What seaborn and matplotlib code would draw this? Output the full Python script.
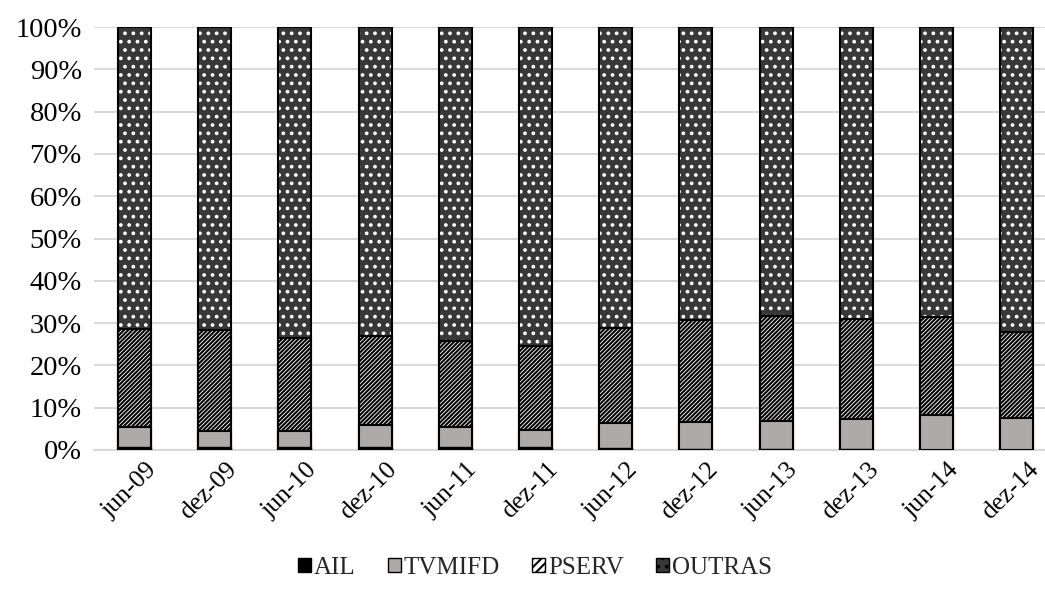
import numpy as np
import pandas as pd
import seaborn as sns
from matplotlib import pyplot as plt
from matplotlib.patches import Patch
from matplotlib.ticker import PercentFormatter, FixedLocator
from matplotlib.transforms import ScaledTranslation

periods = ['jun-09', 'dez-09', 'jun-10', 'dez-10', 'jun-11', 'dez-11',
           'jun-12', 'dez-12', 'jun-13', 'dez-13', 'jun-14', 'dez-14']
ail = [0.7, 0.6, 0.6, 0.6, 0.6, 0.8, 0.4, 0.3, 0.2, 0.2, 0.1, 0.1]
tvmifd = [4.8, 4.0, 4.0, 5.3, 4.8, 3.9, 6.1, 6.4, 6.7, 7.2, 8.1, 7.5]
pserv = [23.0, 23.8, 21.9, 21.1, 20.4, 20.0, 22.3, 24.0, 24.8, 23.6, 23.3, 20.4]
series = ['AIL', 'TVMIFD', 'PSERV', 'OUTRAS']

df = pd.DataFrame({'periodo': periods, 'AIL': ail, 'TVMIFD': tvmifd, 'PSERV': pserv})
df['OUTRAS'] = 100 - df[['AIL', 'TVMIFD', 'PSERV']].sum(axis=1)
cum = df[series].cumsum(axis=1)
cum['periodo'] = df['periodo']

sns.set_style('white')
plt.rcParams['font.family'] = ['Liberation Serif', 'DejaVu Serif']
plt.rcParams['hatch.linewidth'] = 1.5

grid_c = '#d9d9d9'
dark = '#383838'
gray = '#aeaaaa'
width = 0.41

fig = plt.figure(figsize=(10.45, 5.89), dpi=100)
ax = fig.add_axes([0.0903, 0.236, 0.921, 0.718])

# stacked by overlaying cumulative totals, top layer first
sns.barplot(data=cum, x='periodo', y='OUTRAS', color=dark, saturation=1, width=width,
            edgecolor='white', linewidth=0, hatch='..', ax=ax, zorder=2)
sns.barplot(data=cum, x='periodo', y='OUTRAS', fill=False, width=width,
            edgecolor='black', linewidth=1.5, ax=ax, zorder=3)
sns.barplot(data=cum, x='periodo', y='PSERV', color='white', saturation=1, width=width,
            edgecolor='black', linewidth=1.5, hatch='////////', ax=ax, zorder=4)
sns.barplot(data=cum, x='periodo', y='TVMIFD', color=gray, saturation=1, width=width,
            edgecolor='black', linewidth=1.5, ax=ax, zorder=5)
sns.barplot(data=cum, x='periodo', y='AIL', color='black', saturation=1, width=width,
            edgecolor='black', linewidth=1.0, ax=ax, zorder=6)

ax.set_ylim(0, 100)
ax.set_xlim(-0.5, len(periods) - 0.5)
ax.yaxis.set_major_locator(FixedLocator(np.arange(0, 101, 10)))
ax.yaxis.set_major_formatter(PercentFormatter(decimals=0))
ax.grid(axis='y', color=grid_c, linewidth=1.5, zorder=0)
ax.set_axisbelow(True)
ax.set_xlabel('')
ax.set_ylabel('')

for s in ['top', 'right', 'left']:
    ax.spines[s].set_visible(False)
ax.spines['bottom'].set_color(grid_c)
ax.spines['bottom'].set_linewidth(1.5)

ax.xaxis.set_minor_locator(FixedLocator(np.arange(-0.5, len(periods), 1)))
ax.tick_params(axis='x', which='minor', length=8, width=1.5, color=grid_c, direction='out')
ax.tick_params(axis='x', which='major', length=0, pad=6, labelsize=18.5, colors='black')
ax.tick_params(axis='y', length=0, pad=9, labelsize=20.5, colors='black')
shift = ScaledTranslation(11 / 100, 0, fig.dpi_scale_trans)
for lbl in ax.get_xticklabels():
    lbl.set_rotation(45)
    lbl.set_ha('right')
    lbl.set_rotation_mode('anchor')
    lbl.set_transform(lbl.get_transform() + shift)

handles = [
    Patch(facecolor='black', edgecolor='black'),
    Patch(facecolor=gray, edgecolor='black'),
    Patch(facecolor='white', edgecolor='black', hatch='////'),
    Patch(facecolor=dark, edgecolor='black', hatch='..'),
]
fig.legend(handles, series, loc='center', bbox_to_anchor=(0.512, 0.036), ncol=4,
           frameon=False, fontsize=18, handlelength=0.5, handleheight=0.5,
           handletextpad=0.12, columnspacing=1.3)

fig.savefig('out.png', dpi=100)
